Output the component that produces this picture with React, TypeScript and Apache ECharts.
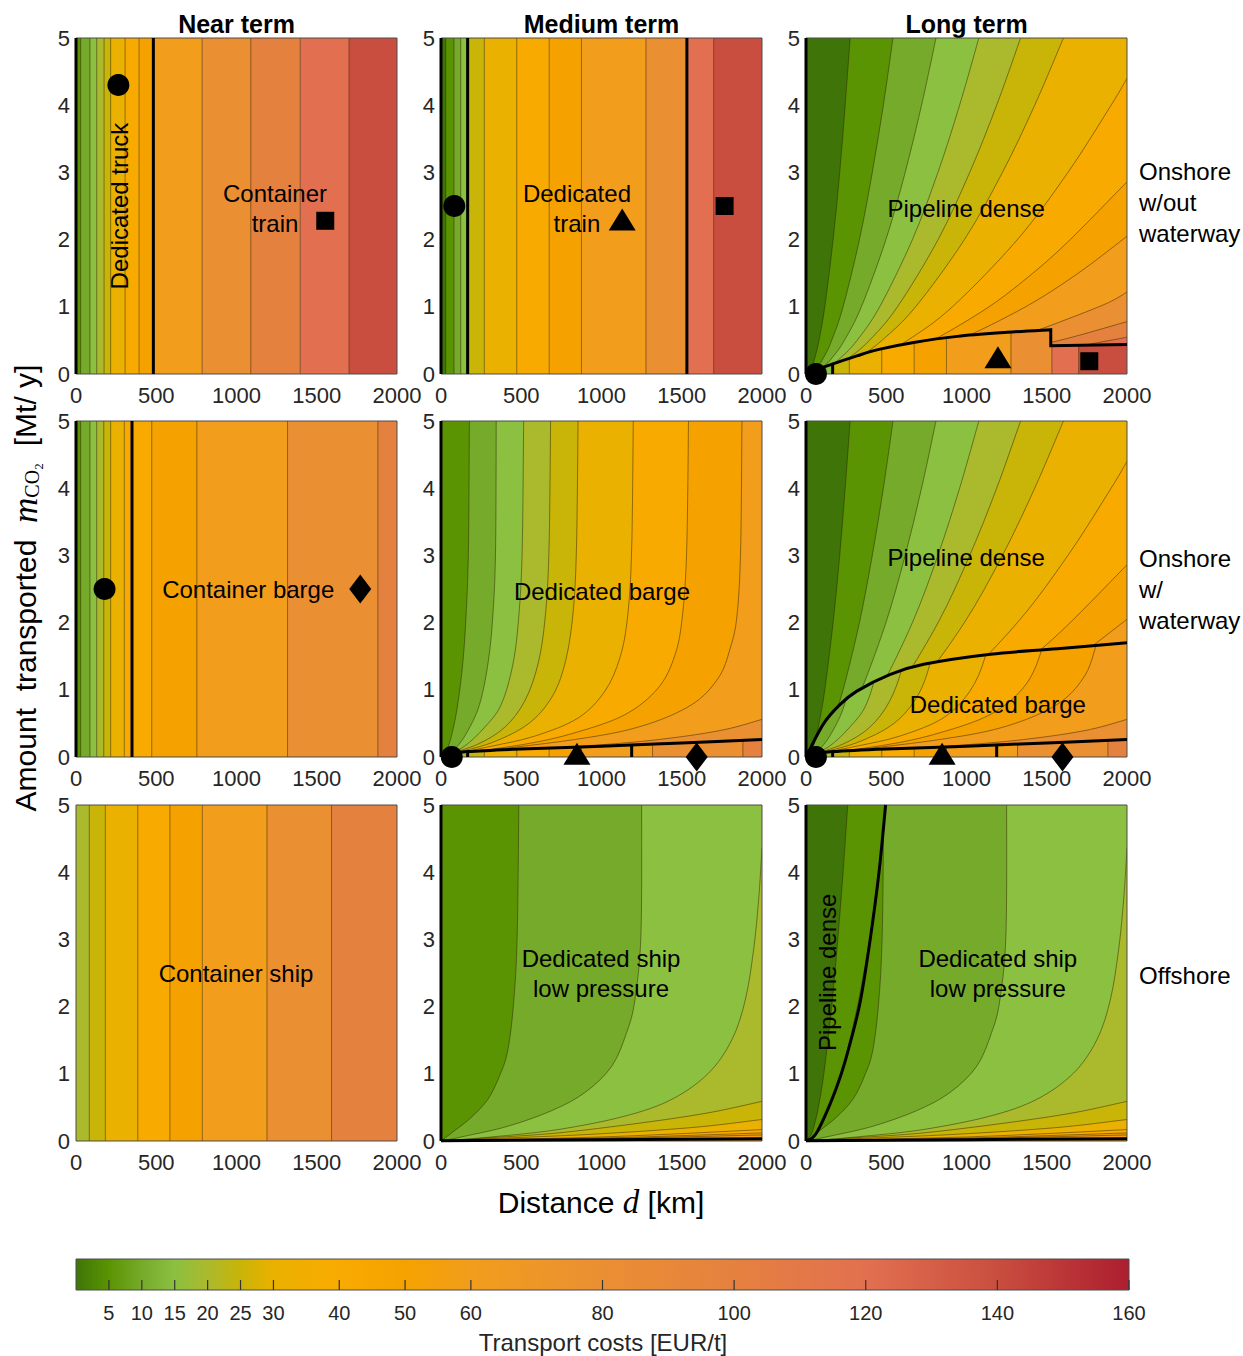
import React, { useEffect, useRef } from 'react';
import * as echarts from 'echarts';

type Pt = [number, number];
type Contour = [number, Pt[]];

// ---------------- axes / labels ----------------
const X_RANGE: Pt = [0, 2000];
const Y_RANGE: Pt = [0, 5];
const X_INTERVAL = 500;
const Y_INTERVAL = 1;
const CB_RANGE: Pt = [0, 160];
const CB_INTERVAL = 5;
const CB_TICKS = [5, 10, 15, 20, 25, 30, 40, 50, 60, 80, 100, 120, 140, 160];
const COLUMN_TITLES = ['Near term', 'Medium term', 'Long term'];
const ROW_TITLES = ['Onshore\nw/out\nwaterway', 'Onshore\nw/\nwaterway', 'Offshore'];

// colour of each cost level (band starting at that level)
const CMAP: [number, string][] = [
  [0, '#3f7508'], [5, '#5a9402'], [10, '#76aa2a'], [15, '#8bc040'], [20, '#abb92d'],
  [25, '#c9b408'], [30, '#eab100'], [40, '#f9aa00'], [50, '#f5a200'], [60, '#f29d1c'],
  [80, '#eb8f33'], [100, '#e5813f'], [120, '#e27050'], [140, '#c94e3f'], [160, '#ad1e2f'],
];

// ---------------- vertical-band panels (cost depends on distance only) ----------------
const NEAR_ONSHORE_BOUNDS = [0, 29, 87, 129, 175, 216, 306, 393, 482, 786, 1089, 1397, 1701, 2000];
const NEAR_ONSHORE_LEVELS = [5, 10, 15, 20, 25, 30, 40, 50, 60, 80, 100, 120, 140];
const NEAR_ONSHORE_SWITCH = [482];

const MED_ONSHORE_BOUNDS = [0, 29, 81, 123, 166, 270, 472, 674, 875, 1277, 1532, 1699, 2000];
const MED_ONSHORE_LEVELS = [0, 5, 10, 15, 25, 30, 40, 50, 60, 80, 120, 140];
const MED_ONSHORE_SWITCH = [166, 1532];

const NEAR_WATER_BOUNDS = [0, 29, 87, 129, 173, 216, 301, 349, 472, 753, 1318, 1881, 2000];
const NEAR_WATER_LEVELS = [5, 10, 15, 20, 25, 30, 40, 40, 50, 60, 80, 100];
const NEAR_WATER_SWITCH = [349];

const NEAR_OFFSHORE_BOUNDS = [0, 83, 183, 385, 585, 787, 1190, 1592, 2000];
const NEAR_OFFSHORE_LEVELS = [20, 25, 30, 40, 50, 60, 80, 100];

const BARGE_STRIP_BOUNDS = [0, 166, 270, 472, 674, 875, 1188, 1318, 1881, 2000];
const BARGE_STRIP_LEVELS = [20, 25, 30, 40, 50, 60, 60, 80, 100];

// ---------------- contour lines [level, points (km, Mt/y)] ----------------
const PIPELINE_ONSHORE: Contour[] = [
  [5, [[0, 0], [35, 0.1], [56, 0.25], [81, 0.5], [117, 1], [169, 2], [210, 3], [244, 4], [275, 5]]],
  [10, [[0, 0], [68, 0.1], [111, 0.25], [160, 0.5], [231, 1], [333, 2], [413, 3], [482, 4], [542, 5]]],
  [15, [[0, 0], [102, 0.1], [166, 0.25], [239, 0.5], [345, 1], [498, 2], [618, 3], [720, 4], [810, 5]]],
  [20, [[0, 0], [135, 0.1], [220, 0.25], [318, 0.5], [459, 1], [663, 2], [822, 3], [957, 4], [1077, 5]]],
  [25, [[0, 0], [168, 0.1], [273, 0.25], [395, 0.5], [570, 1], [823, 2], [1020, 3], [1188, 4], [1337, 5]]],
  [30, [[0, 0], [202, 0.1], [328, 0.25], [473, 0.5], [683, 1], [987, 2], [1224, 3], [1425, 4], [1604, 5]]],
  [40, [[0, 0], [269, 0.1], [437, 0.25], [632, 0.5], [912, 1], [1317, 2], [1632, 3], [1901, 4], [2000, 4.4]]],
  [50, [[0, 0], [337, 0.1], [547, 0.25], [789, 0.5], [1140, 1], [1413, 1.5], [1646, 2], [2000, 2.86]]],
  [60, [[0, 0], [404, 0.1], [656, 0.25], [947, 0.5], [1368, 1], [1696, 1.5], [2000, 2.05]]],
  [80, [[0, 0], [538, 0.1], [875, 0.25], [1263, 0.5], [1824, 1], [2000, 1.22]]],
  [100, [[0, 0], [673, 0.1], [1094, 0.25], [1579, 0.5], [2000, 0.78]]],
  [120, [[0, 0], [808, 0.1], [1312, 0.25], [1894, 0.5], [2000, 0.55]]],
  [140, [[0, 0], [942, 0.1], [1531, 0.25], [2000, 0.41]]],
];

const BARGE: Contour[] = [
  [10, [[10, 0.04], [42, 0.14], [73, 0.39], [104, 0.78], [135, 1.38], [156, 2.1], [171, 3.1], [177, 5]]],
  [15, [[20, 0.04], [94, 0.14], [167, 0.39], [240, 0.78], [292, 1.38], [323, 2.1], [340, 3.1], [344, 5]]],
  [20, [[30, 0.04], [146, 0.16], [271, 0.44], [375, 0.78], [448, 1.38], [485, 2.1], [506, 3.1], [515, 5]]],
  [25, [[40, 0.04], [229, 0.19], [396, 0.44], [521, 0.83], [604, 1.38], [650, 2.1], [673, 3.1], [683, 5]]],
  [30, [[50, 0.04], [313, 0.21], [542, 0.49], [688, 0.88], [771, 1.38], [821, 2.1], [844, 3.1], [854, 5]]],
  [40, [[60, 0.04], [313, 0.16], [583, 0.31], [854, 0.58], [1021, 0.98], [1115, 1.48], [1163, 2.1], [1188, 3.1], [1198, 5]]],
  [50, [[70, 0.04], [521, 0.19], [833, 0.36], [1146, 0.63], [1354, 1.03], [1458, 1.52], [1504, 2.1], [1531, 3.1], [1542, 5]]],
  [60, [[80, 0.04], [833, 0.26], [1250, 0.46], [1563, 0.78], [1729, 1.18], [1802, 1.62], [1844, 2.1], [1867, 3.1], [1875, 5]]],
  [80, [[100, 0.04], [1042, 0.19], [1458, 0.29], [1771, 0.41], [2000, 0.56]]],
];

const SHIP: Contour[] = [
  [10, [[0, 0], [83, 0.15], [188, 0.35], [292, 0.62], [365, 0.97], [417, 1.36], [454, 2.1], [475, 3.09], [485, 5]]],
  [15, [[0, 0], [146, 0.07], [417, 0.22], [688, 0.45], [896, 0.72], [1063, 1.11], [1156, 1.61], [1208, 2.1], [1246, 3.09], [1250, 5]]],
  [20, [[0, 0], [313, 0.06], [729, 0.17], [1146, 0.37], [1438, 0.62], [1667, 1.01], [1813, 1.51], [1896, 2.1], [1948, 2.85], [1979, 3.59], [2000, 4.36]]],
  [25, [[0, 0], [313, 0.05], [729, 0.12], [1250, 0.27], [1667, 0.42], [2000, 0.59]]],
  [30, [[0, 0], [313, 0.035], [938, 0.1], [1563, 0.2], [2000, 0.32]]],
  [40, [[0, 0], [500, 0.03], [1000, 0.06], [1500, 0.11], [2000, 0.17]]],
  [50, [[0, 0], [1000, 0.045], [1500, 0.08], [2000, 0.12]]],
  [60, [[0, 0], [1000, 0.035], [2000, 0.09]]],
];

const PIPELINE_OFFSHORE: Contour[] = [
  [5, [[0, 0], [33, 0.1], [53, 0.25], [77, 0.5], [111, 1], [160, 2], [198, 3], [231, 4], [260, 5]]],
  [10, [[0, 0], [65, 0.1], [106, 0.25], [153, 0.5], [222, 1], [320, 2], [397, 3], [462, 4], [520, 5]]],
];

// ---------------- mode boundaries (thick black lines) ----------------
const LEFT_EDGE: Pt[] = [[0, 0], [0, 5]];
const LT_ONSHORE_BOUNDARY: Pt[] = [[0, 0], [60, 0.06], [167, 0.15], [317, 0.27], [462, 0.37], [671, 0.47], [942, 0.56], [1254, 0.62], [1525, 0.66]];
const LT_ONSHORE_BOUNDARY_STEP: Pt[] = [[1525, 0.66], [1525, 0.42], [2000, 0.44]];
const LT_ONSHORE_TICK: Pt[] = [[166, 0], [166, 0.15]];
const BARGE_LOWER_BOUNDARY: Pt[] = [[0, 0.03], [167, 0.08], [500, 0.12], [1000, 0.16], [1500, 0.21], [2000, 0.26]];
const BARGE_TICKS: Pt[][] = [[[166, 0], [166, 0.08]], [[1188, 0], [1188, 0.17]]];
const PIPE_BARGE_BOUNDARY: Pt[] = [[0, 0], [108, 0.49], [212, 0.78], [317, 0.98], [525, 1.23], [733, 1.38], [1150, 1.53], [1567, 1.61], [2000, 1.7]];
const SHIP_BOTTOM: Pt[] = [[0, 0.005], [2000, 0.035]];
const PIPE_SHIP_BOUNDARY: Pt[] = [[0, 0], [60, 0.1], [150, 0.55], [220, 1.0], [280, 1.5], [340, 2.1], [400, 3], [455, 4], [496, 5]];

// ---------------- markers [km, Mt/y, shape] ----------------
type Mk = [number, number, string];
const MK_R1C1: Mk[] = [[264, 4.3, 'circle'], [1553, 2.28, 'square']];
const MK_R1C2: Mk[] = [[83, 2.5, 'circle'], [1129, 2.3, 'triangle'], [1767, 2.5, 'square']];
const MK_R1C3: Mk[] = [[62, 0, 'circle'], [1196, 0.25, 'triangle'], [1765, 0.19, 'square']];
const MK_R2C1: Mk[] = [[178, 2.5, 'circle'], [1771, 2.5, 'diamond']];
const MK_R2C2: Mk[] = [[67, 0, 'circle'], [847, 0.05, 'triangle'], [1593, 0, 'diamond']];
const MK_R2C3: Mk[] = [[62, 0, 'circle'], [848, 0.05, 'triangle'], [1598, 0, 'diamond']];

// ---------------- annotations [text, km, Mt/y, rotation deg] ----------------
type Tx = [string, number, number, number];
const TX_R1C1: Tx[] = [['Dedicated truck', 270, 2.5, 90], ['Container\ntrain', 1240, 2.47, 0]];
const TX_R1C2: Tx[] = [['Dedicated\ntrain', 847, 2.47, 0]];
const TX_R1C3: Tx[] = [['Pipeline dense', 998, 2.46, 0]];
const TX_R2C1: Tx[] = [['Container barge', 1073, 2.49, 0]];
const TX_R2C2: Tx[] = [['Dedicated barge', 1003, 2.47, 0]];
const TX_R2C3: Tx[] = [['Pipeline dense', 998, 2.97, 0], ['Dedicated barge', 1195, 0.78, 0]];
const TX_R3C1: Tx[] = [['Container ship', 997, 2.49, 0]];
const TX_R3C2: Tx[] = [['Dedicated ship\nlow pressure', 997, 2.49, 0]];
const TX_R3C3: Tx[] = [['Dedicated ship\nlow pressure', 1195, 2.49, 0], ['Pipeline dense', 133, 2.51, 90]];

// ---------------- layout / style ----------------
const FONT = '"Liberation Sans", Arial, Helvetica, sans-serif';
const SERIF = '"Liberation Serif", "DejaVu Serif", serif';
const GRID_LEFT = [76, 441, 806];
const GRID_TOP = [38, 421, 805];
const GRID_W = 321;
const GRID_H = 336;
const ROW_LABEL_Y = [202, 589, 975];
const CONTOUR_STROKE = 'rgba(45,35,0,0.55)';
const SYMBOL: Record<string, string> = { circle: 'circle', square: 'rect', triangle: 'triangle', diamond: 'diamond' };
const SYMBOL_SIZE: Record<string, number | number[]> = { circle: 22, square: 18, triangle: [27, 22], diamond: [22, 29] };

type Boundary = { s: Pt[]; t?: Pt[] };
type Field = { kind: 'bands'; bounds: number[]; levels: number[] } | { kind: 'contours'; base: number; contours: Contour[] };
type Clip = { type: 'above' | 'below'; b: Boundary } | { type: 'between'; lo: Boundary; up: Boundary };
type Layer = { field: Field; clip?: Clip };
type Panel = { row: number; col: number; layers: Layer[]; lines: Boundary[]; markers: Mk[]; texts: Tx[] };

const bands = (bounds: number[], levels: number[]): Field => ({ kind: 'bands', bounds, levels });
const contours = (base: number, c: Contour[]): Field => ({ kind: 'contours', base, contours: c });
const vline = (d: number): Boundary => ({ s: [[d, Y_RANGE[0]], [d, Y_RANGE[1]]] });

const B_LT: Boundary = { s: LT_ONSHORE_BOUNDARY, t: LT_ONSHORE_BOUNDARY_STEP };
const B_LOW: Boundary = { s: BARGE_LOWER_BOUNDARY };
const B_UP: Boundary = { s: PIPE_BARGE_BOUNDARY };
const B_P: Boundary = { s: PIPE_SHIP_BOUNDARY };

const PANELS: Panel[] = [
  { row: 0, col: 0, layers: [{ field: bands(NEAR_ONSHORE_BOUNDS, NEAR_ONSHORE_LEVELS) }], lines: [{ s: LEFT_EDGE }, ...NEAR_ONSHORE_SWITCH.map(vline)], markers: MK_R1C1, texts: TX_R1C1 },
  { row: 0, col: 1, layers: [{ field: bands(MED_ONSHORE_BOUNDS, MED_ONSHORE_LEVELS) }], lines: [{ s: LEFT_EDGE }, ...MED_ONSHORE_SWITCH.map(vline)], markers: MK_R1C2, texts: TX_R1C2 },
  {
    row: 0, col: 2,
    layers: [
      { field: contours(0, PIPELINE_ONSHORE), clip: { type: 'above', b: B_LT } },
      { field: bands(MED_ONSHORE_BOUNDS, MED_ONSHORE_LEVELS), clip: { type: 'below', b: B_LT } },
    ],
    lines: [{ s: LEFT_EDGE }, B_LT, { s: LT_ONSHORE_TICK }], markers: MK_R1C3, texts: TX_R1C3,
  },
  { row: 1, col: 0, layers: [{ field: bands(NEAR_WATER_BOUNDS, NEAR_WATER_LEVELS) }], lines: [{ s: LEFT_EDGE }, ...NEAR_WATER_SWITCH.map(vline)], markers: MK_R2C1, texts: TX_R2C1 },
  {
    row: 1, col: 1,
    layers: [
      { field: contours(5, BARGE), clip: { type: 'above', b: B_LOW } },
      { field: bands(BARGE_STRIP_BOUNDS, BARGE_STRIP_LEVELS), clip: { type: 'below', b: B_LOW } },
    ],
    lines: [{ s: LEFT_EDGE }, B_LOW, ...BARGE_TICKS.map((s) => ({ s }))], markers: MK_R2C2, texts: TX_R2C2,
  },
  {
    row: 1, col: 2,
    layers: [
      { field: contours(0, PIPELINE_ONSHORE), clip: { type: 'above', b: B_UP } },
      { field: contours(5, BARGE), clip: { type: 'between', lo: B_LOW, up: B_UP } },
      { field: bands(BARGE_STRIP_BOUNDS, BARGE_STRIP_LEVELS), clip: { type: 'below', b: B_LOW } },
    ],
    lines: [{ s: LEFT_EDGE }, B_LOW, B_UP, ...BARGE_TICKS.map((s) => ({ s }))], markers: MK_R2C3, texts: TX_R2C3,
  },
  { row: 2, col: 0, layers: [{ field: bands(NEAR_OFFSHORE_BOUNDS, NEAR_OFFSHORE_LEVELS) }], lines: [], markers: [], texts: TX_R3C1 },
  { row: 2, col: 1, layers: [{ field: contours(5, SHIP) }], lines: [{ s: LEFT_EDGE }, { s: SHIP_BOTTOM }], markers: [], texts: TX_R3C2 },
  {
    row: 2, col: 2,
    layers: [
      { field: contours(5, SHIP), clip: { type: 'below', b: B_P } },
      { field: contours(0, PIPELINE_OFFSHORE), clip: { type: 'above', b: B_P } },
    ],
    lines: [{ s: LEFT_EDGE }, { s: SHIP_BOTTOM }, B_P], markers: [], texts: TX_R3C3,
  },
];

// ---------------- rendering helpers ----------------
const f = (v: number) => v.toFixed(2);
const color = (lev: number) => {
  const e = CMAP.find((c) => c[0] === lev);
  return e ? e[1] : '#999999';
};

function spline(P: number[][]): string {
  let s = '';
  for (let i = 0; i < P.length - 1; i++) {
    const p0 = P[Math.max(i - 1, 0)];
    const p1 = P[i];
    const p2 = P[i + 1];
    const p3 = P[Math.min(i + 2, P.length - 1)];
    const c1x = p1[0] + (p2[0] - p0[0]) / 6;
    const c1y = p1[1] + (p2[1] - p0[1]) / 6;
    const c2x = p2[0] - (p3[0] - p1[0]) / 6;
    const c2y = p2[1] - (p3[1] - p1[1]) / 6;
    s += ` C ${f(c1x)} ${f(c1y)} ${f(c2x)} ${f(c2y)} ${f(p2[0])} ${f(p2[1])}`;
  }
  return s;
}

function bPath(b: Boundary, c: (p: Pt) => number[]) {
  const S = b.s.map(c);
  let d = `M ${f(S[0][0])} ${f(S[0][1])}` + spline(S);
  let last = S[S.length - 1];
  if (b.t) {
    for (const p of b.t) {
      const q = c(p);
      d += ` L ${f(q[0])} ${f(q[1])}`;
      last = q;
    }
  }
  return { d, first: S[0], last };
}

function makeRender(panel: Panel) {
  return (params: any, api: any) => {
    const cs = params.coordSys;
    const L = cs.x, T = cs.y, R = cs.x + cs.width, B = cs.y + cs.height;
    const c = (p: Pt) => api.coord(p) as number[];
    const lineStyle = { fill: 'none', stroke: CONTOUR_STROKE, lineWidth: 0.9 };

    const belowPath = (b: Boundary) => {
      const p = bPath(b, c);
      return p.d + ` L ${f(R + 4)} ${f(p.last[1])} L ${f(R + 4)} ${f(B + 4)} L ${f(p.first[0])} ${f(B + 4)} Z`;
    };
    const abovePath = (b: Boundary) => {
      const p = bPath(b, c);
      return p.d + ` L ${f(R + 4)} ${f(p.last[1])} L ${f(R + 4)} ${f(T - 4)} L ${f(L - 4)} ${f(T - 4)} L ${f(L - 4)} ${f(p.first[1])} Z`;
    };
    const betweenPath = (lo: Boundary, up: Boundary) => {
      const p = bPath(lo, c);
      const U = up.s.map(c).reverse();
      return p.d + ` L ${f(R + 4)} ${f(p.last[1])} L ${f(R + 4)} ${f(U[0][1])} L ${f(U[0][0])} ${f(U[0][1])}` + spline(U) +
        ` L ${f(L - 4)} ${f(U[U.length - 1][1])} L ${f(L - 4)} ${f(p.first[1])} Z`;
    };

    const fieldEls = (field: Field) => {
      const els: any[] = [];
      if (field.kind === 'bands') {
        const { bounds, levels } = field;
        for (let i = 0; i < levels.length; i++) {
          const x0 = i === 0 ? L - 4 : c([bounds[i], 0])[0];
          const x1 = i === levels.length - 1 ? R + 4 : c([bounds[i + 1], 0])[0];
          els.push({ type: 'rect', shape: { x: x0, y: T - 4, width: x1 - x0 + 0.4, height: B - T + 8 }, style: { fill: color(levels[i]) } });
        }
        for (let i = 1; i < bounds.length - 1; i++) {
          const x = c([bounds[i], 0])[0];
          els.push({ type: 'line', shape: { x1: x, y1: T - 4, x2: x, y2: B + 4 }, style: lineStyle });
        }
      } else {
        els.push({ type: 'rect', shape: { x: L - 4, y: T - 4, width: R - L + 8, height: B - T + 8 }, style: { fill: color(field.base) } });
        for (const [lev, pts] of field.contours) {
          els.push({ type: 'path', shape: { pathData: belowPath({ s: pts }) }, style: { fill: color(lev) } });
        }
        for (const [, pts] of field.contours) {
          els.push({ type: 'path', shape: { pathData: bPath({ s: pts }, c).d }, style: lineStyle });
        }
      }
      return els;
    };

    const layers = panel.layers.map((layer) => {
      const g: any = { type: 'group', children: fieldEls(layer.field) };
      if (layer.clip) {
        const cl = layer.clip;
        const pd = cl.type === 'between' ? betweenPath(cl.lo, cl.up) : cl.type === 'above' ? abovePath(cl.b) : belowPath(cl.b);
        g.clipPath = { type: 'path', shape: { pathData: pd } };
      }
      return g;
    });

    const children: any[] = [
      { type: 'group', children: layers, clipPath: { type: 'rect', shape: { x: L, y: T, width: R - L, height: B - T } } },
      { type: 'rect', shape: { x: L, y: T, width: R - L, height: B - T }, style: { fill: 'none', stroke: '#4d4d4d', lineWidth: 1 } },
    ];
    for (const ln of panel.lines) {
      children.push({ type: 'path', shape: { pathData: bPath(ln, c).d }, style: { fill: 'none', stroke: '#000', lineWidth: 3 } });
    }
    for (const [text, d, m, rot] of panel.texts) {
      const p = c([d, m]);
      children.push({
        type: 'text', x: p[0], y: p[1], rotation: (rot * Math.PI) / 180,
        style: { text, fontSize: 24, fontFamily: FONT, fill: '#000', align: 'center', verticalAlign: 'middle', lineHeight: 30 },
      });
    }
    return { type: 'group', children };
  };
}

function colorbarRender(params: any, api: any) {
  const cs = params.coordSys;
  const stops = CMAP.map(([v, col]) => ({ offset: (v - CB_RANGE[0]) / (CB_RANGE[1] - CB_RANGE[0]), color: col }));
  const children: any[] = [
    {
      type: 'rect', shape: { x: cs.x, y: cs.y, width: cs.width, height: cs.height },
      style: { fill: new echarts.graphic.LinearGradient(0, 0, 1, 0, stops), stroke: '#4d4d4d', lineWidth: 1 },
    },
  ];
  for (const t of CB_TICKS) {
    const p = api.coord([t, 0]);
    children.push({ type: 'line', shape: { x1: p[0], y1: p[1], x2: p[0], y2: p[1] - 10 }, style: { stroke: '#333', lineWidth: 1.2 } });
  }
  return { type: 'group', children };
}

function buildOption() {
  const grid: any[] = [];
  const xAxis: any[] = [];
  const yAxis: any[] = [];
  const series: any[] = [];
  const labelBase = { fontSize: 22, color: '#262626', fontFamily: FONT, showMinLabel: true, showMaxLabel: true, formatter: (v: number) => String(v) };
  PANELS.forEach((p, i) => {
    grid.push({ left: GRID_LEFT[p.col], top: GRID_TOP[p.row], width: GRID_W, height: GRID_H });
    xAxis.push({
      gridIndex: i, type: 'value', min: X_RANGE[0], max: X_RANGE[1], interval: X_INTERVAL,
      axisLine: { show: false }, axisTick: { show: false }, splitLine: { show: false },
      axisLabel: { ...labelBase, margin: 10 },
    });
    yAxis.push({
      gridIndex: i, type: 'value', min: Y_RANGE[0], max: Y_RANGE[1], interval: Y_INTERVAL,
      axisLine: { show: false }, axisTick: { show: false }, splitLine: { show: false },
      axisLabel: { ...labelBase, margin: 6 },
    });
    series.push({ type: 'custom', xAxisIndex: i, yAxisIndex: i, data: [[0, 0]], renderItem: makeRender(p), silent: true, z: 1 });
    if (p.markers.length) {
      series.push({
        type: 'scatter', xAxisIndex: i, yAxisIndex: i, clip: false, silent: true, z: 5,
        itemStyle: { color: '#000', opacity: 1 },
        data: p.markers.map(([d, m, s]) => ({ value: [d, m], symbol: SYMBOL[s], symbolSize: SYMBOL_SIZE[s] })),
      });
    }
  });
  // colour bar
  const ci = PANELS.length;
  grid.push({ left: 76, top: 1259, width: 1053, height: 31 });
  xAxis.push({
    gridIndex: ci, type: 'value', min: CB_RANGE[0], max: CB_RANGE[1], interval: CB_INTERVAL,
    axisLine: { show: false }, axisTick: { show: false }, splitLine: { show: false },
    axisLabel: { fontSize: 20, color: '#262626', fontFamily: FONT, margin: 13, showMinLabel: true, showMaxLabel: true,
      formatter: (v: number) => (CB_TICKS.includes(v) ? String(v) : '') },
  });
  yAxis.push({ gridIndex: ci, type: 'value', min: 0, max: 1, show: false });
  series.push({ type: 'custom', xAxisIndex: ci, yAxisIndex: ci, data: [[0, 0]], renderItem: colorbarRender, silent: true });

  const graphic: any[] = [];
  COLUMN_TITLES.forEach((t, j) => {
    graphic.push({ type: 'text', x: GRID_LEFT[j] + GRID_W / 2, y: 24,
      style: { text: t, fontSize: 25, fontWeight: 'bold', fontFamily: FONT, fill: '#000', align: 'center', verticalAlign: 'middle' } });
  });
  ROW_TITLES.forEach((t, r) => {
    graphic.push({ type: 'text', x: 1139, y: ROW_LABEL_Y[r],
      style: { text: t, fontSize: 24, fontFamily: FONT, fill: '#000', align: 'left', verticalAlign: 'middle', lineHeight: 31 } });
  });
  graphic.push({
    type: 'text', x: 25, y: 588, rotation: Math.PI / 2,
    style: {
      text: '{n|Amount  transported  }{i|m}{s|CO₂}{n|  [Mt/ y]}', align: 'center', verticalAlign: 'middle',
      rich: {
        n: { fontSize: 30, fontFamily: FONT, fill: '#000', lineHeight: 38, verticalAlign: 'middle' },
        i: { fontSize: 35, fontFamily: SERIF, fontStyle: 'italic', fill: '#000', lineHeight: 38, verticalAlign: 'middle' },
        s: { fontSize: 20, fontFamily: SERIF, fill: '#000', lineHeight: 38, verticalAlign: 'bottom', padding: [0, 0, 2, 0] },
      },
    },
  });
  graphic.push({
    type: 'text', x: 601, y: 1202,
    style: {
      text: '{n|Distance }{i|d}{n| [km]}', align: 'center', verticalAlign: 'middle',
      rich: {
        n: { fontSize: 30, fontFamily: FONT, fill: '#000' },
        i: { fontSize: 33, fontFamily: SERIF, fontStyle: 'italic', fill: '#000' },
      },
    },
  });
  graphic.push({ type: 'text', x: 603, y: 1342,
    style: { text: 'Transport costs [EUR/t]', fontSize: 24, fontFamily: FONT, fill: '#262626', align: 'center', verticalAlign: 'middle' } });

  return { animation: false, backgroundColor: '#ffffff', grid, xAxis, yAxis, series, graphic };
}

export default function App() {
  const ref = useRef<HTMLDivElement>(null);
  useEffect(() => {
    if (!ref.current) return;
    const chart = echarts.init(ref.current, undefined, { renderer: 'svg' });
    chart.setOption(buildOption() as any);
    return () => chart.dispose();
  }, []);
  return <div ref={ref} style={{ position: 'fixed', left: 0, top: 0, width: 1243, height: 1356, background: '#fff' }} />;
}
